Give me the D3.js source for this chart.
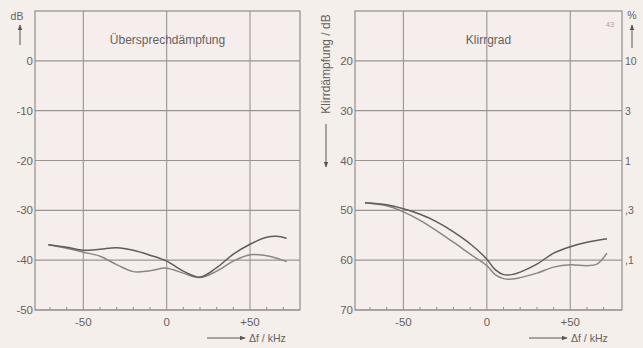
<!DOCTYPE html>
<html><head><meta charset="utf-8">
<script src="https://cdn.jsdelivr.net/npm/d3@7"></script>
<style>
html,body{margin:0;padding:0;background:#f4efeb;}
svg{display:block;}
text{font-family:"Liberation Sans","DejaVu Sans",sans-serif;fill:#67625e;}
</style></head>
<body>
<svg id="c" width="643" height="348"></svg>
<script>
// ---- data ----
const xTicks = [-50, 0, 50];
const xTickLabels = ["-50", "0", "+50"];
const minorTicks = [-70, -60, -40, -30, -20, -10, 10, 20, 30, 40, 60, 70];
const leftYTicks = [0, -10, -20, -30, -40, -50];
const rightYTicks = [20, 30, 40, 50, 60, 70];
const pctValues = [10, 3, 1, 0.3, 0.1];
const pctLabels = ["10", "3", "1", ",3", ",1"];

const crosstalkA_x = [-71, -60, -50, -40, -30, -20, -10, 0, 10, 20, 30, 40, 50, 60, 66, 72];
const crosstalkA_y = [-36.9, -37.4, -38, -37.8, -37.5, -38, -39, -40.2, -42.2, -43.4, -41.5, -38.8, -36.8, -35.4, -35.2, -35.6];
const crosstalkB_x = [-71, -60, -50, -40, -30, -20, -10, 0, 10, 20, 30, 40, 50, 60, 66, 72];
const crosstalkB_y = [-36.9, -37.6, -38.4, -39.2, -40.9, -42.3, -42.1, -41.6, -42.6, -43.5, -42.2, -40.2, -38.9, -39.1, -39.6, -40.3];

const distC_x = [-73, -60, -50, -40, -30, -20, -10, 0, 5, 10, 15, 20, 30, 40, 50, 60, 72];
const distC_y = [48.5, 48.9, 49.7, 50.8, 52.3, 54.3, 56.7, 59.8, 61.9, 62.9, 62.9, 62.4, 60.8, 58.6, 57.3, 56.4, 55.7];
const distD_x = [-73, -60, -50, -40, -30, -20, -10, 0, 5, 10, 15, 20, 30, 40, 50, 60, 66, 72];
const distD_y = [48.5, 49.1, 50.3, 52, 54.1, 56.4, 58.8, 61.1, 62.9, 63.7, 63.8, 63.5, 62.6, 61.4, 60.9, 61.1, 60.8, 58.6];

// ---- drawing ----
const svg = d3.select("#c");
const gridCol = "#9a948f", curveCol1 = "#5f5c5a", curveCol2 = "#8a8683";

const defs = svg.append("defs");
defs.append("marker").attr("id","ah").attr("viewBox","0 0 10 10").attr("refX",9).attr("refY",5)
  .attr("markerWidth",6).attr("markerHeight",6).attr("orient","auto")
  .append("path").attr("d","M0,1 L10,5 L0,9 Z").attr("fill","#5a5653");

function panel(cfg){
  const top = 11, bottom = 310;
  const x = d3.scaleLinear().domain(cfg.xDom).range(cfg.xRange);
  const y = d3.scaleLinear().domain(cfg.yDom).range([bottom, top]);
  const g = svg.append("g");
  g.append("rect").attr("x",cfg.xRange[0]).attr("y",top)
    .attr("width",cfg.xRange[1]-cfg.xRange[0]).attr("height",bottom-top)
    .attr("fill","#f5eeed").attr("stroke",gridCol).attr("stroke-width",1.3);
  g.selectAll(".vg").data(xTicks).enter().append("line")
    .attr("x1",d=>x(d)).attr("x2",d=>x(d)).attr("y1",top).attr("y2",bottom)
    .attr("stroke",gridCol).attr("stroke-width",1.1);
  g.selectAll(".hg").data(cfg.yTicks).enter().append("line")
    .attr("x1",cfg.xRange[0]).attr("x2",cfg.xRange[1]).attr("y1",d=>y(d)).attr("y2",d=>y(d))
    .attr("stroke",gridCol).attr("stroke-width",1.1);
  g.selectAll(".mt").data(minorTicks).enter().append("line")
    .attr("x1",d=>x(d)).attr("x2",d=>x(d)).attr("y1",bottom).attr("y2",bottom-3)
    .attr("stroke",gridCol).attr("stroke-width",1.1);
  g.selectAll(".xl").data(xTicks).enter().append("text")
    .attr("x",d=>x(d)).attr("y",bottom+16).attr("text-anchor","middle")
    .attr("font-size",11.5).text((d,i)=>xTickLabels[i]);
  g.selectAll(".yl").data(cfg.yTicks).enter().append("text")
    .attr("x",cfg.xRange[0]-2).attr("y",d=>y(d)+4).attr("text-anchor","end")
    .attr("font-size",11.5).text(d=>d);
  g.append("text").attr("x",(cfg.xRange[0]+cfg.xRange[1])/2).attr("y",44)
    .attr("text-anchor","middle").attr("font-size",12).text(cfg.title);
  const ax = cfg.xRange[1];
  g.append("line").attr("x1",ax-93).attr("x2",ax-55).attr("y1",338).attr("y2",338)
    .attr("stroke","#5a5653").attr("stroke-width",1).attr("marker-end","url(#ah)");
  g.append("text").attr("x",ax-51).attr("y",342).attr("font-size",10.5).text("Δf / kHz");
  const line = d3.line().x(d=>x(d[0])).y(d=>y(d[1])).curve(d3.curveCatmullRom.alpha(0.5));
  cfg.series.forEach(s=>{
    g.append("path").attr("d",line(s.x.map((v,i)=>[v,s.y[i]])))
      .attr("fill","none").attr("stroke",s.col).attr("stroke-width",1.5);
  });
  return {x,y,g};
}

const L = panel({xDom:[-79,80], xRange:[35,300], yDom:[-50,10],
  yTicks:leftYTicks, title:"Übersprechdämpfung",
  series:[{x:crosstalkB_x,y:crosstalkB_y,col:curveCol2},{x:crosstalkA_x,y:crosstalkA_y,col:curveCol1}]});
const R = panel({xDom:[-79,81], xRange:[355,622], yDom:[70,10],
  yTicks:rightYTicks, title:"Klirrgrad",
  series:[{x:distD_x,y:distD_y,col:curveCol2},{x:distC_x,y:distC_y,col:curveCol1}]});

// left y axis unit "dB" with up arrow
svg.append("text").attr("x",17).attr("y",20).attr("text-anchor","middle").attr("font-size",10.5).text("dB");
svg.append("line").attr("x1",20).attr("x2",20).attr("y1",45).attr("y2",25)
  .attr("stroke","#5a5653").attr("stroke-width",1).attr("marker-end","url(#ah)");

// right panel rotated label with down arrow
svg.append("text").attr("transform","translate(330,64) rotate(-90)").attr("text-anchor","middle")
  .attr("font-size",12).text("Klirrdämpfung / dB");
svg.append("line").attr("x1",326).attr("x2",326).attr("y1",124).attr("y2",167)
  .attr("stroke","#5a5653").attr("stroke-width",1).attr("marker-end","url(#ah)");

// right % axis
const pctToDb = p => -20*Math.log10(p/100);
svg.selectAll(".pl").data(pctValues).enter().append("text")
  .attr("x",625).attr("y",d=>R.y(Math.round(pctToDb(d)))+4).attr("font-size",10.5)
  .text((d,i)=>pctLabels[i]);
svg.append("text").attr("x",632).attr("y",19).attr("text-anchor","middle").attr("font-size",10.5).text("%");
svg.append("line").attr("x1",632).attr("x2",632).attr("y1",48).attr("y2",25)
  .attr("stroke","#5a5653").attr("stroke-width",1).attr("marker-end","url(#ah)");

// figure number
svg.append("text").attr("x",610).attr("y",27).attr("text-anchor","middle").attr("font-size",7.5)
  .style("fill","#aaa49f").text("43");
</script>
</body></html>
